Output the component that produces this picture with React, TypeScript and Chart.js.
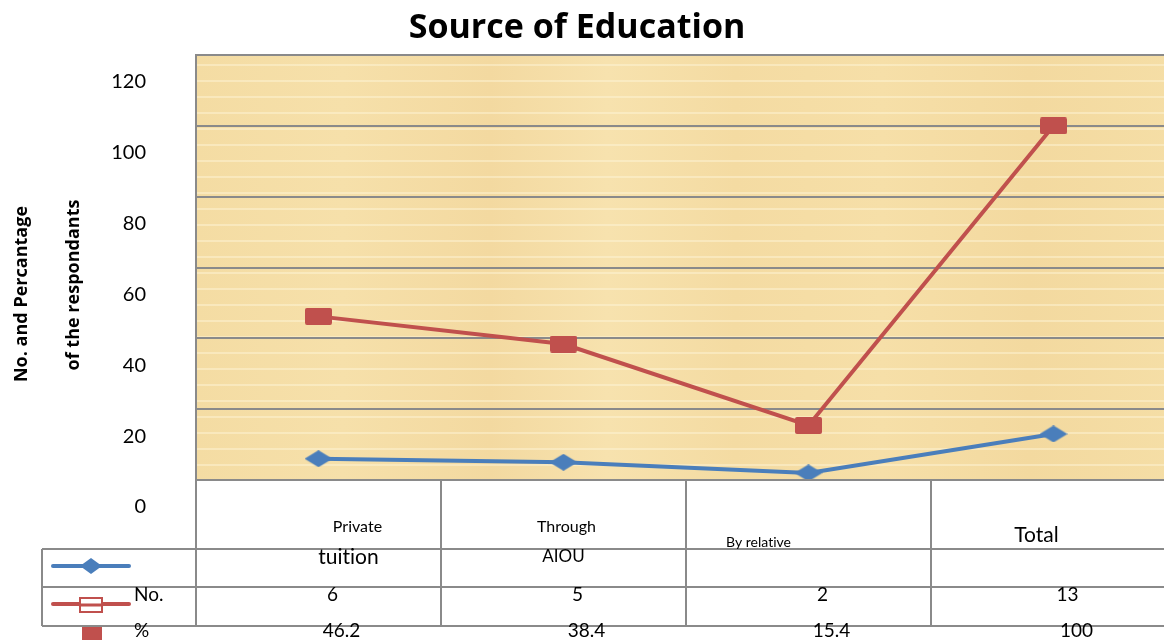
import React, { useEffect, useRef } from "react";
import { Chart, registerables } from "chart.js";

Chart.register(...registerables);

const chartTitle = "Source of Education";
const yTitleLines = ["No. and Percantage", "of the respondants"];
const categories = ["Private tuition", "Through AIOU", "By relative", "Total"];
const catLine1 = ["Private", "Through", "By relative", "Total"];
const catLine2 = ["tuition", "AIOU", "", ""];
const noValues = [6, 5, 2, 13];
const pctValues = [46.2, 38.4, 15.4, 100];
const seriesNames = ["No.", "%"];
const yTicks = [0, 20, 40, 60, 80, 100, 120];

const BLUE = "#4a7ebb";
const RED = "#c0504d";
const GRID = "#8a8a8a";
const FONT = "Lato, 'Open Sans', sans-serif";
const BOLD_FONT = "'Open Sans', Lato, sans-serif";

function makeDiamond(w: number, h: number, color: string) {
  const c = document.createElement("canvas");
  c.width = w;
  c.height = h;
  const ctx = c.getContext("2d")!;
  ctx.fillStyle = color;
  ctx.beginPath();
  ctx.moveTo(w / 2, 0);
  ctx.lineTo(w, h / 2);
  ctx.lineTo(w / 2, h);
  ctx.lineTo(0, h / 2);
  ctx.closePath();
  ctx.fill();
  return c;
}

function makeRect(w: number, h: number, color: string) {
  const c = document.createElement("canvas");
  c.width = w;
  c.height = h;
  const ctx = c.getContext("2d")!;
  ctx.fillStyle = color;
  ctx.beginPath();
  (ctx as any).roundRect ? (ctx as any).roundRect(0, 0, w, h, 2) : ctx.rect(0, 0, w, h);
  ctx.fill();
  return c;
}

const decorPlugin = {
  id: "decor",
  beforeDraw(chart: any) {
    const { ctx, chartArea } = chart;
    const { left, right, top, bottom } = chartArea;
    ctx.save();
    const g = ctx.createLinearGradient(left, 0, right, 0);
    g.addColorStop(0, "#f4dca3");
    g.addColorStop(0.15, "#f6e0aa");
    g.addColorStop(0.3, "#f3d9a0");
    g.addColorStop(0.42, "#f7e2ae");
    g.addColorStop(0.55, "#f4dba2");
    g.addColorStop(0.7, "#f6dfa8");
    g.addColorStop(0.85, "#f3d99f");
    g.addColorStop(1, "#f5dea6");
    ctx.fillStyle = g;
    ctx.fillRect(left, top, right - left, bottom - top);
    ctx.strokeStyle = "rgba(255,248,222,0.85)";
    ctx.lineWidth = 1.2;
    for (let y = top + 10; y < bottom; y += 16) {
      ctx.beginPath();
      ctx.moveTo(left, y);
      ctx.lineTo(right, y);
      ctx.stroke();
    }
    ctx.restore();
  },
  afterDraw(chart: any) {
    const { ctx, chartArea, scales } = chart;
    const xs = scales.x;
    const { left, right, bottom } = chartArea;
    const W = chart.width;
    ctx.save();
    try {
      (ctx as any).letterSpacing = "0.01px";
    } catch (e) {}

    // Title
    ctx.fillStyle = "#000";
    ctx.font = `bold 34px ${BOLD_FONT}`;
    ctx.textAlign = "center";
    ctx.textBaseline = "middle";
    ctx.fillText(chartTitle, 577, 28);

    // Y axis title
    ctx.font = `bold 18px ${BOLD_FONT}`;
    ctx.save();
    ctx.translate(22, 294);
    ctx.rotate(-Math.PI / 2);
    ctx.fillText(yTitleLines[0], 0, 0);
    ctx.restore();
    ctx.save();
    ctx.translate(74, 285);
    ctx.rotate(-Math.PI / 2);
    ctx.fillText(yTitleLines[1], 0, 0);
    ctx.restore();

    // Table lines
    const rowA = 549;
    const rowB = 587;
    const rowC = 626;
    const tableLeft = 42;
    ctx.strokeStyle = GRID;
    ctx.lineWidth = 2;
    const hline = (x1: number, x2: number, y: number) => {
      ctx.beginPath();
      ctx.moveTo(x1, y);
      ctx.lineTo(x2, y);
      ctx.stroke();
    };
    const vline = (x: number, y1: number, y2: number) => {
      ctx.beginPath();
      ctx.moveTo(x, y1);
      ctx.lineTo(x, y2);
      ctx.stroke();
    };
    hline(left, W, bottom);
    hline(tableLeft, W, rowA);
    hline(tableLeft, W, rowB);
    hline(tableLeft, W, rowC);
    vline(tableLeft, rowA, rowC);
    vline(left, bottom, rowC);
    const step = (right - left) / categories.length;
    for (let i = 1; i < categories.length; i++) {
      vline(left + step * i, bottom, rowC);
    }

    // Category labels
    const centers = categories.map((_, i) => xs.getPixelForValue(i));
    const l1Fonts = [16, 16, 14, 21];
    const l1Dx = [39, 3, -50, -17];
    const l1Y = [527, 527, 542, 535];
    const l2Fonts = [21, 17, 16, 16];
    const l2Dx = [30, 0, 0, 0];
    ctx.fillStyle = "#000";
    ctx.textBaseline = "middle";
    ctx.textAlign = "center";
    centers.forEach((cx, i) => {
      ctx.font = `${l1Fonts[i]}px ${FONT}`;
      ctx.fillText(catLine1[i], cx + l1Dx[i], l1Y[i]);
      if (catLine2[i]) {
        ctx.font = `${l2Fonts[i]}px ${FONT}`;
        ctx.fillText(catLine2[i], cx + l2Dx[i], 557);
      }
    });

    // Data rows
    ctx.font = `19px ${FONT}`;
    centers.forEach((cx, i) => {
      ctx.fillText(String(noValues[i]), cx + 14, 595);
      ctx.fillText(String(pctValues[i]), cx + 23, 631);
    });

    // Legend keys
    ctx.textAlign = "left";
    ctx.fillText(seriesNames[0], 134, 595);
    ctx.fillText(seriesNames[1], 134, 631);

    ctx.strokeStyle = BLUE;
    ctx.lineWidth = 4;
    ctx.lineCap = "round";
    hline(53, 129, 566);
    ctx.fillStyle = BLUE;
    ctx.beginPath();
    ctx.moveTo(91, 558);
    ctx.lineTo(102, 566);
    ctx.lineTo(91, 574);
    ctx.lineTo(80, 566);
    ctx.closePath();
    ctx.fill();

    ctx.strokeStyle = RED;
    hline(53, 129, 604);
    ctx.fillStyle = "#fff";
    ctx.fillRect(80, 598, 22, 14);
    ctx.lineWidth = 2;
    ctx.strokeRect(80, 598, 22, 14);
    ctx.lineWidth = 3;
    hline(80, 102, 605);

    ctx.fillStyle = RED;
    ctx.fillRect(82, 627, 20, 16);

    ctx.restore();
  },
};

export default function App() {
  const ref = useRef<HTMLCanvasElement | null>(null);
  useEffect(() => {
    const canvas = ref.current!;
    const chart = new Chart(canvas, {
      type: "line",
      data: {
        labels: categories,
        datasets: [
          {
            label: seriesNames[0],
            data: noValues,
            borderColor: BLUE,
            borderWidth: 4,
            pointStyle: makeDiamond(28, 17, BLUE) as any,
            pointRadius: 10,
            tension: 0,
          },
          {
            label: seriesNames[1],
            data: pctValues,
            borderColor: RED,
            borderWidth: 4,
            pointStyle: makeRect(27, 17, RED) as any,
            pointRadius: 10,
            tension: 0,
          },
        ],
      },
      options: {
        animation: false,
        responsive: false,
        devicePixelRatio: 1,
        layout: { padding: { top: 55, right: 14, left: 0, bottom: 0 } },
        plugins: {
          legend: { display: false },
          title: { display: false },
          tooltip: { enabled: false },
        },
        scales: {
          x: {
            type: "category",
            offset: true,
            ticks: { display: false },
            grid: { display: false },
            border: { display: false },
            afterFit: (s: any) => {
              s.height = 160;
              s.paddingLeft = 0;
              s.paddingRight = 0;
            },
          },
          y: {
            min: 0,
            max: 120,
            afterBuildTicks: (s: any) => {
              s.ticks = yTicks.map((v) => ({ value: v }));
            },
            ticks: {
              padding: 50,
              labelOffset: 27,
              color: "#000",
              font: { family: FONT, size: 20 },
            },
            grid: { color: GRID, lineWidth: 2, drawTicks: false },
            border: { display: true, color: GRID, width: 2 },
            afterFit: (s: any) => {
              s.width = 196;
              s.paddingTop = 0;
              s.paddingBottom = 0;
            },
          },
        },
      },
      plugins: [decorPlugin],
    });
    return () => chart.destroy();
  }, []);
  return (
    <div
      style={{
        position: "fixed",
        left: 0,
        top: 0,
        width: 1164,
        height: 640,
        overflow: "hidden",
        background: "#fff",
      }}
    >
      <canvas ref={ref} width={1190} height={640} style={{ display: "block" }} />
    </div>
  );
}
